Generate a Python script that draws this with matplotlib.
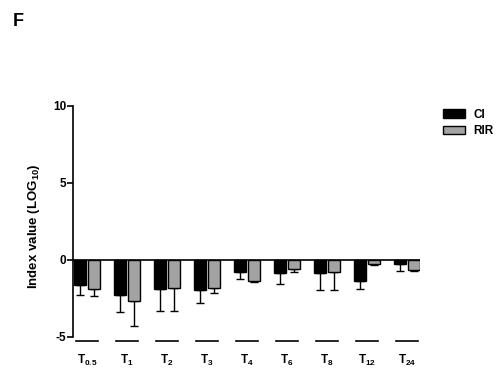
import matplotlib
matplotlib.use("Agg")
import matplotlib.pyplot as plt
from matplotlib.patches import Patch
import numpy as np

plt.rcParams['font.family'] = ['Liberation Sans', 'DejaVu Sans']
plt.rcParams['font.weight'] = 'bold'
plt.rcParams['mathtext.fontset'] = 'custom'
plt.rcParams['mathtext.rm'] = 'Liberation Sans:bold'
plt.rcParams['mathtext.bf'] = 'Liberation Sans:bold'
plt.rcParams['mathtext.it'] = 'Liberation Sans:bold'

# Time points and index values (log10) for the two groups
time_labels = [r"T$_{0.5}$", r"T$_{1}$", r"T$_{2}$", r"T$_{3}$", r"T$_{4}$",
               r"T$_{6}$", r"T$_{8}$", r"T$_{12}$", r"T$_{24}$"]
ci_mean = [-1.62, -2.27, -1.92, -1.98, -0.80, -0.87, -0.88, -1.38, -0.26]
ci_err = [0.65, 1.15, 1.38, 0.80, 0.47, 0.73, 1.07, 0.52, 0.44]
rir_mean = [-1.90, -2.70, -1.80, -1.83, -1.35, -0.60, -0.80, -0.26, -0.68]
rir_err = [0.48, 1.63, 1.50, 0.35, 0.08, 0.20, 1.15, 0.05, 0.05]

W, H = 498, 369
fig = plt.figure(figsize=(W / 100, H / 100), dpi=100)
left, right, top, bottom = 73, 420, 106, 346
ax = fig.add_axes([left / W, 1 - bottom / H, (right - left) / W, (bottom - top) / H])

x = np.arange(len(time_labels))
bw = 0.3
off = 0.17

ax.bar(x - off, ci_mean, width=bw, color='black', edgecolor='black', linewidth=1, zorder=2)
ax.bar(x + off, rir_mean, width=bw, color='#a3a3a3', edgecolor='black', linewidth=1, zorder=2)
ax.errorbar(x - off, ci_mean, yerr=[ci_err, np.zeros(len(x))], fmt='none',
            ecolor='black', elinewidth=1, capsize=3, capthick=1, zorder=1)
ax.errorbar(x + off, rir_mean, yerr=[rir_err, np.zeros(len(x))], fmt='none',
            ecolor='black', elinewidth=1, capsize=3, capthick=1, zorder=1)

ax.axhline(0, color='black', linewidth=1.2, zorder=3)

ax.set_xlim(-0.35, 8.325)
ax.set_ylim(-5.6, 10)

# Segmented x axis under each group
for xi in x:
    ax.plot([xi - 0.27, xi + 0.27], [-5.3, -5.3], color='black', linewidth=1.2,
            clip_on=False)

for s in ['top', 'right', 'bottom']:
    ax.spines[s].set_visible(False)
ax.spines['left'].set_bounds(-5, 10)
ax.spines['left'].set_linewidth(1.2)

ax.set_yticks([-5, 0, 5, 10])
ax.set_yticklabels(['-5', '0', '5', '10'], fontsize=8.5, fontweight='bold')
ax.tick_params(axis='y', direction='out', length=4, width=1.2, pad=1)
ax.set_xticks(x)
ax.set_xticklabels(time_labels, fontsize=8.5)
ax.tick_params(axis='x', length=0, pad=5)

ax.set_ylabel(r"Index value (LOG$_{10}$)", fontsize=9.5, fontweight='bold', labelpad=8)

handles = [Patch(facecolor='black', edgecolor='black', label='CI'),
           Patch(facecolor='#a3a3a3', edgecolor='black', label='RIR')]
fig.legend(handles=handles, loc='upper left', bbox_to_anchor=(432 / W, 1 - 98 / H),
           frameon=False, handlelength=1.9, handleheight=0.7,
           handletextpad=0.7, labelspacing=0.4, prop={'weight': 'bold', 'size': 8.5})

fig.text(13 / W, 1 - 22 / H, 'F', fontsize=13, fontweight='bold', va='center', ha='left')

fig.savefig('out.png', dpi=100)
